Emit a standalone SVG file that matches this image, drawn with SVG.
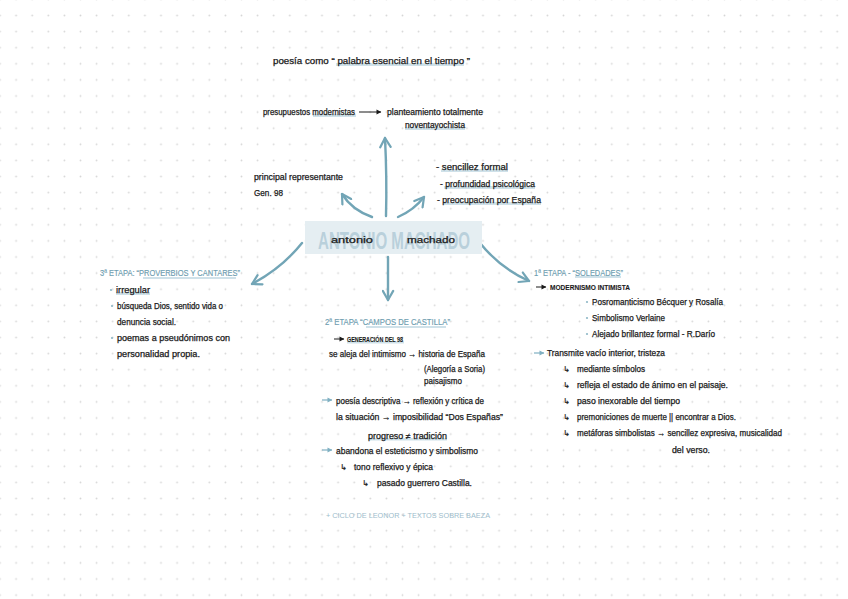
<svg xmlns="http://www.w3.org/2000/svg" width="848" height="599" viewBox="0 0 848 599">
<defs>
<pattern id="dots" patternUnits="userSpaceOnUse" x="-8.05" y="7.45" width="16.1" height="16.1">
<circle cx="8.05" cy="8.05" r="0.9" fill="#d6d6d6"/>
</pattern>
<marker id="ah" viewBox="0 0 10 10" markerUnits="userSpaceOnUse" markerWidth="13" markerHeight="13" refX="8.5" refY="5" orient="auto">
<path d="M1.5,1 L8.5,5 L1.5,9" fill="none" stroke="#72a5b6" stroke-width="1.7" stroke-linecap="round" stroke-linejoin="round"/>
</marker>
<marker id="ahk" viewBox="0 0 10 10" markerUnits="userSpaceOnUse" markerWidth="6" markerHeight="6" refX="8.5" refY="5" orient="auto">
<path d="M1,1 L9,5 L1,9 Z" fill="#1a1a1a"/>
</marker>
<marker id="aht" viewBox="0 0 10 10" markerUnits="userSpaceOnUse" markerWidth="6" markerHeight="6" refX="8.5" refY="5" orient="auto">
<path d="M1,1 L9,5 L1,9 Z" fill="#7fb0c2"/>
</marker>
</defs>
<style>
text{font-family:"Liberation Sans","DejaVu Sans",sans-serif;font-size:8.6px;fill:#1a1a1a;stroke:#1a1a1a;stroke-width:0.25}
.h{font-size:9px;fill:#6d9db0;stroke:#6d9db0;stroke-width:0.15}
.cap{font-size:6.8px;font-weight:bold;stroke-width:0.1}
.hl{fill:#cfe1e9}
.dot{fill:#8fb8c7}
.sym{font-family:"DejaVu Sans",sans-serif;font-size:8px}
.conn{fill:none;stroke:#72a5b6;stroke-width:2.4;stroke-linecap:round}
.ka{stroke:#1a1a1a;stroke-width:1;fill:none}
.ta{stroke:#7fb0c2;stroke-width:1.2;fill:none}
</style>
<rect width="848" height="599" fill="#ffffff"/>
<rect width="848" height="599" fill="url(#dots)"/>

<g id="connectors">
<path class="conn" d="M386,216 Q387,178 385,138" marker-end="url(#ah)"/>
<path class="conn" d="M372,217 Q352,210 342,194" marker-end="url(#ah)"/>
<path class="conn" d="M398,217 Q414,210 424,197" marker-end="url(#ah)"/>
<path class="conn" d="M302,243 Q282,268 252,284" marker-end="url(#ah)"/>
<path class="conn" d="M480,243 Q500,268 529,281" marker-end="url(#ah)"/>
<path class="conn" d="M388,257 L388,300" marker-end="url(#ah)"/>
</g>

<g id="center">
<rect x="305" y="221" width="177" height="33" fill="#e5eef2"/>
<text x="318" y="249" textLength="152" lengthAdjust="spacingAndGlyphs" style="font-size:23px;font-weight:bold;fill:#b9d0db;stroke:none">ANTONIO MACHADO</text>
<text x="331" y="243" textLength="42" lengthAdjust="spacingAndGlyphs">antonio</text>
<text x="407" y="243" textLength="48" lengthAdjust="spacingAndGlyphs">machado</text>
</g>

<g id="quote">
<rect class="hl" x="336" y="63" width="128" height="3"/>
<text x="273" y="64" textLength="197" lengthAdjust="spacingAndGlyphs">poesía como “ palabra esencial en el tiempo ”</text>
</g>

<g id="presupuestos">
<rect class="hl" x="313" y="114" width="43" height="3"/>
<text x="263" y="115" textLength="92" lengthAdjust="spacingAndGlyphs">presupuestos modernistas</text>
<path class="ka" d="M359,112 L381,112" marker-end="url(#ahk)"/>
<text x="387" y="115" textLength="96" lengthAdjust="spacingAndGlyphs">planteamiento totalmente</text>
<rect class="hl" x="405" y="127" width="60" height="3"/>
<text x="405" y="128" textLength="60" lengthAdjust="spacingAndGlyphs">noventayochista</text>
</g>

<g id="representante">
<text x="254" y="180" textLength="89" lengthAdjust="spacingAndGlyphs">principal representante</text>
<text x="254" y="196" textLength="29" lengthAdjust="spacingAndGlyphs">Gen. 98</text>
</g>

<g id="caracteristicas">
<rect class="hl" x="441" y="169" width="67" height="3"/>
<text x="436" y="170" textLength="72" lengthAdjust="spacingAndGlyphs">- sencillez formal</text>
<rect class="hl" x="444" y="186" width="91" height="3"/>
<text x="440" y="187" textLength="95" lengthAdjust="spacingAndGlyphs">- profundidad psicológica</text>
<rect class="hl" x="443" y="202" width="98" height="3"/>
<text x="437" y="203" textLength="104" lengthAdjust="spacingAndGlyphs">- preocupación por España</text>
</g>

<g id="etapa3">
<rect class="hl" x="143" y="277" width="93" height="2"/>
<text class="h" x="100" y="276" textLength="140" lengthAdjust="spacingAndGlyphs">3ª ETAPA: “PROVERBIOS Y CANTARES”</text>
<circle class="dot" cx="111" cy="290" r="1.1"/>
<rect class="hl" x="116" y="292" width="34" height="3"/>
<text x="116" y="293" textLength="34" lengthAdjust="spacingAndGlyphs">irregular</text>
<circle class="dot" cx="112" cy="306" r="1.1"/>
<text x="117" y="309" textLength="106" lengthAdjust="spacingAndGlyphs">búsqueda Dios, sentido vida o</text>
<text x="117" y="325" textLength="59" lengthAdjust="spacingAndGlyphs">denuncia social.</text>
<circle class="dot" cx="112" cy="338" r="1.1"/>
<text x="117" y="341" textLength="113" lengthAdjust="spacingAndGlyphs">poemas a  pseudónimos  con</text>
<text x="117" y="357" textLength="83" lengthAdjust="spacingAndGlyphs">personalidad propia.</text>
</g>

<g id="etapa1">
<rect class="hl" x="575" y="276" width="46" height="2"/>
<text class="h" x="534" y="276" textLength="89" lengthAdjust="spacingAndGlyphs">1ª ETAPA - “SOLEDADES”</text>
<path class="ka" d="M536,287 L546,287" marker-end="url(#ahk)"/>
<text class="cap" x="550" y="290" textLength="80" lengthAdjust="spacingAndGlyphs">MODERNISMO INTIMISTA</text>
<circle class="dot" cx="587" cy="302" r="1.1"/>
<text x="592" y="305" textLength="131" lengthAdjust="spacingAndGlyphs">Posromanticismo Bécquer y Rosalía</text>
<circle class="dot" cx="587" cy="318" r="1.1"/>
<text x="592" y="321" textLength="73" lengthAdjust="spacingAndGlyphs">Simbolismo Verlaine</text>
<circle class="dot" cx="587" cy="334" r="1.1"/>
<text x="592" y="337" textLength="123" lengthAdjust="spacingAndGlyphs">Alejado brillantez formal - R.Darío</text>
<path class="ta" d="M534,353 L544,353" marker-end="url(#aht)"/>
<text x="547" y="356" textLength="118" lengthAdjust="spacingAndGlyphs">Transmite vacío interior, tristeza</text>
<text class="sym" x="563" y="372">↳</text><text x="577" y="372" textLength="68" lengthAdjust="spacingAndGlyphs">mediante símbolos</text>
<text class="sym" x="563" y="388">↳</text><text x="577" y="388" textLength="151" lengthAdjust="spacingAndGlyphs">refleja el estado de ánimo en el paisaje.</text>
<text class="sym" x="563" y="404">↳</text><text x="577" y="404" textLength="103" lengthAdjust="spacingAndGlyphs">paso inexorable del tiempo</text>
<text class="sym" x="563" y="420">↳</text><text x="577" y="420" textLength="159" lengthAdjust="spacingAndGlyphs">premoniciones de muerte || encontrar a Dios.</text>
<text class="sym" x="563" y="436">↳</text><text x="577" y="436" textLength="205" lengthAdjust="spacingAndGlyphs">metáforas simbolistas → sencillez expresiva, musicalidad</text>
<text x="672" y="453" textLength="38" lengthAdjust="spacingAndGlyphs">del verso.</text>
</g>

<g id="etapa2">
<rect class="hl" x="366" y="326" width="80" height="2"/>
<text class="h" x="325" y="325" textLength="125" lengthAdjust="spacingAndGlyphs">2ª ETAPA “CAMPOS DE CASTILLA”</text>
<path class="ka" d="M334,339 L344,339" marker-end="url(#ahk)"/>
<rect class="hl" x="347" y="341" width="57" height="2.5"/>
<text class="cap" x="347" y="342" textLength="56" lengthAdjust="spacingAndGlyphs">GENERACIÓN DEL 98</text>
<text x="329" y="357" textLength="156" lengthAdjust="spacingAndGlyphs">se aleja del intimismo → historia de España</text>
<text x="424" y="372" textLength="61" lengthAdjust="spacingAndGlyphs">(Alegoría a Soria)</text>
<text x="424" y="384" textLength="38" lengthAdjust="spacingAndGlyphs">paisajismo</text>
<path class="ta" d="M322,400 L332,400" marker-end="url(#aht)"/>
<text x="336" y="404" textLength="148" lengthAdjust="spacingAndGlyphs">poesía descriptiva → reflexión y crítica de</text>
<text x="336" y="420" textLength="167" lengthAdjust="spacingAndGlyphs">la situación → imposibilidad “Dos Españas”</text>
<rect class="hl" x="368" y="438" width="79" height="2.5"/>
<text x="368" y="439" textLength="79" lengthAdjust="spacingAndGlyphs">progreso ≠ tradición</text>
<path class="ta" d="M322,450 L332,450" marker-end="url(#aht)"/>
<text x="336" y="454" textLength="142" lengthAdjust="spacingAndGlyphs">abandona el esteticismo y simbolismo</text>
<text class="sym" x="340" y="470">↳</text><text x="354" y="470" textLength="79" lengthAdjust="spacingAndGlyphs">tono reflexivo y épica</text>
<text class="sym" x="362" y="486">↳</text><text x="377" y="486" textLength="95" lengthAdjust="spacingAndGlyphs">pasado guerrero Castilla.</text>
<text x="326" y="518" textLength="164" lengthAdjust="spacingAndGlyphs" style="font-size:7px;fill:#9dbccb;stroke:none">+ CICLO DE LEONOR + TEXTOS SOBRE BAEZA</text>
</g>
</svg>
